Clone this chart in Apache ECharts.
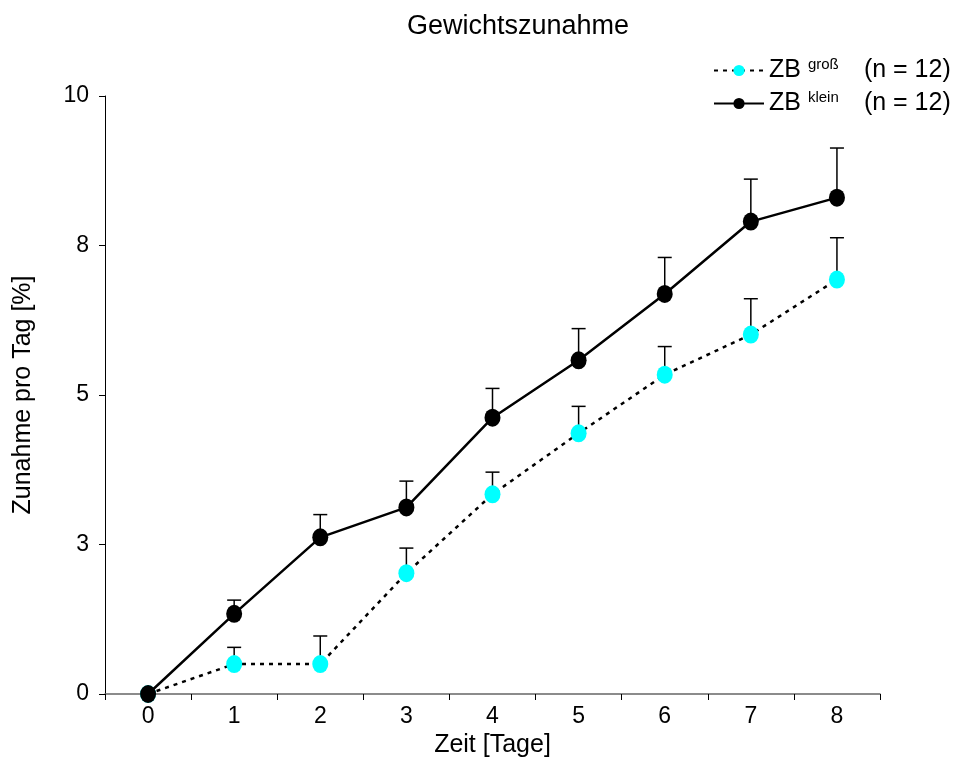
<!DOCTYPE html>
<html><head><meta charset="utf-8">
<script src="https://cdn.jsdelivr.net/npm/echarts@6/dist/echarts.min.js"></script>
<style>html,body{margin:0;padding:0;background:#fff}#c{width:960px;height:763px}</style>
</head><body><div id="c"></div>
<script>
var categories = ['0','1','2','3','4','5','6','7','8'];
var grossMean = [0, 0.5, 0.5, 2.02, 3.34, 4.36, 5.34, 6.01, 6.93];
var grossUpper = [0, 0.78, 0.97, 2.44, 3.71, 4.81, 5.81, 6.61, 7.63];
var kleinMean = [0, 1.34, 2.62, 3.12, 4.62, 5.58, 6.69, 7.90, 8.30];
var kleinUpper = [0, 1.57, 3.00, 3.56, 5.11, 6.11, 7.30, 8.61, 9.13];
var yTickLabels = ['0','3','5','8','10'];
var seriesNames = ['ZB groß', 'ZB klein'];
var supTexts = ['groß', 'klein'];

var FONT = 'Liberation Sans, Arial, sans-serif';
var chart = echarts.init(document.getElementById('c'));

function errSeries(mean, upper, z) {
  return {
    type: 'custom', z: z, silent: true,
    data: mean.map(function (m, i) { return [i, m, upper[i]]; }),
    renderItem: function (params, api) {
      if (api.value(2) <= api.value(1)) return null;
      var p0 = api.coord([api.value(0), api.value(1)]);
      var p1 = api.coord([api.value(0), api.value(2)]);
      var style = { stroke: '#000', lineWidth: 1.5 };
      return { type: 'group', children: [
        { type: 'line', shape: { x1: p0[0], y1: p0[1], x2: p1[0], y2: p1[1] }, style: style },
        { type: 'line', shape: { x1: p1[0] - 7, y1: p1[1], x2: p1[0] + 7, y2: p1[1] }, style: style }
      ]};
    }
  };
}

chart.setOption({
  animation: false,
  backgroundColor: '#fff',
  title: { text: 'Gewichtszunahme', left: 513, top: 8, textAlign: 'center',
    textStyle: { fontFamily: FONT, fontSize: 27, fontWeight: 'normal', color: '#000' } },
  legend: {
    orient: 'vertical', left: 708, top: 52, itemWidth: 50, itemHeight: 14, itemGap: 7,
    data: seriesNames,
    formatter: function (name) {
      var i = seriesNames.indexOf(name);
      return '{a|ZB }{s|' + supTexts[i] + '}{b|(n = 12)}';
    },
    textStyle: {
      fontFamily: FONT, color: '#000',
      rich: {
        a: { fontFamily: FONT, fontSize: 25, color: '#000' },
        s: { fontFamily: FONT, fontSize: 15, color: '#000', width: 56, verticalAlign: 'bottom', padding: [0, 0, 12, 0] },
        b: { fontFamily: FONT, fontSize: 25, color: '#000' }
      }
    }
  },
  grid: { left: 105, right: 80, top: 96, bottom: 67 },
  xAxis: {
    type: 'category', data: categories, boundaryGap: true,
    name: 'Zeit [Tage]', nameLocation: 'middle', nameGap: 39,
    nameTextStyle: { fontFamily: FONT, fontSize: 25, color: '#000' },
    axisLine: { lineStyle: { color: '#666', width: 1.5 } },
    axisTick: { show: true, length: 6, lineStyle: { color: '#000' } },
    axisLabel: { fontFamily: FONT, fontSize: 23, color: '#000', margin: 11 },
    splitLine: { show: false }
  },
  yAxis: {
    type: 'value', min: 0, max: 10, interval: 2.5,
    name: 'Zunahme pro Tag [%]', nameLocation: 'middle', nameGap: 69,
    nameTextStyle: { fontFamily: FONT, fontSize: 25, color: '#000' },
    axisLine: { show: true, lineStyle: { color: '#000', width: 1 } },
    axisTick: { show: true, length: 6, lineStyle: { color: '#000' } },
    axisLabel: { fontFamily: FONT, fontSize: 23, color: '#000', margin: 16,
      formatter: function (v) { return yTickLabels[Math.round(v / 2.5)]; } },
    splitLine: { show: false }
  },
  series: [
    errSeries(grossMean, grossUpper, 1),
    errSeries(kleinMean, kleinUpper, 1),
    {
      name: 'ZB groß', type: 'line', z: 3, data: grossMean,
      symbol: 'circle', symbolSize: [16, 18], showSymbol: true,
      itemStyle: { color: '#00ffff', borderWidth: 0 },
      lineStyle: { color: '#000', width: 2.5, type: [4, 5] }
    },
    {
      name: 'ZB klein', type: 'line', z: 4, data: kleinMean,
      symbol: 'circle', symbolSize: [16, 18], showSymbol: true,
      itemStyle: { color: '#000', borderWidth: 0 },
      lineStyle: { color: '#000', width: 2.5 }
    }
  ]
});
</script></body></html>
